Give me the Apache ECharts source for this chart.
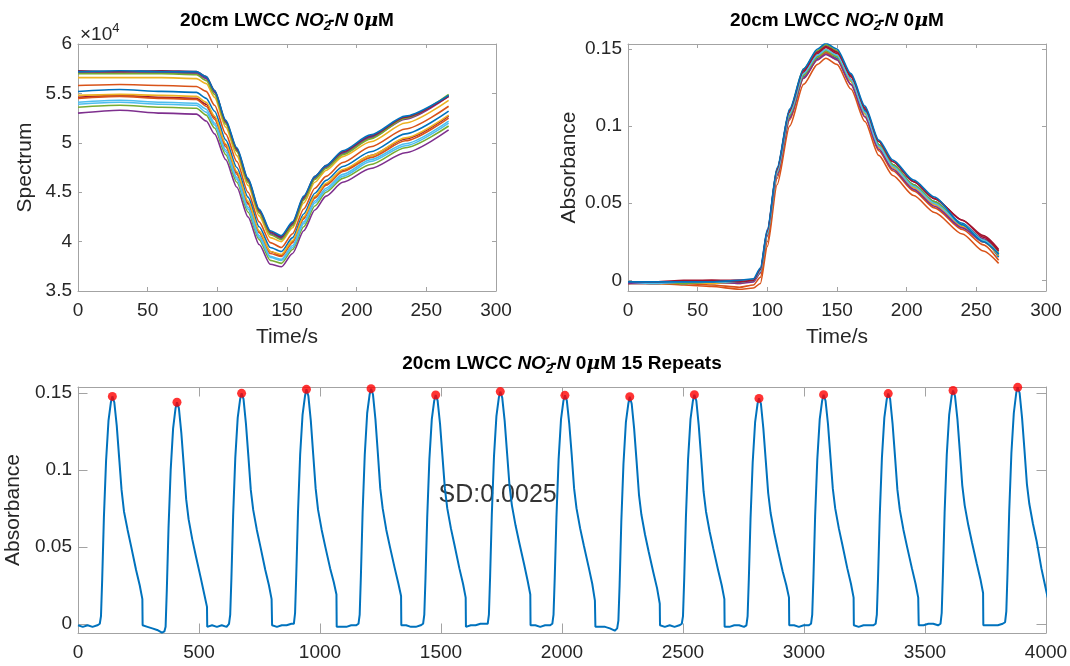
<!DOCTYPE html>
<html>
<head>
<meta charset="utf-8">
<script src="https://cdn.jsdelivr.net/npm/echarts@6/dist/echarts.min.js"></script>
<style>
html, body { margin: 0; padding: 0; background: #fff; }
#chart { width: 1070px; height: 666px; }
</style>
</head>
<body>
<div id="chart"></div>
<script>
// matlab default colour order
var lineColors = ['#0072BD', '#D95319', '#EDB120', '#7E2F8E', '#77AC30', '#4DBEEE', '#A2142F'];

// top left: raw spectrum (x10^4 counts), 15 runs
var specTime = [0, 30, 60, 85, 92, 98, 106, 114, 122, 130, 138, 146, 154, 162, 170, 178, 190, 210, 235, 266];
var spectrumRuns = [
  [5.72, 5.72, 5.72, 5.71, 5.66, 5.52, 5.21, 4.93, 4.62, 4.31, 4.09, 4.04, 4.18, 4.44, 4.65, 4.76, 4.90, 5.06, 5.25, 5.48],
  [5.58, 5.59, 5.58, 5.57, 5.52, 5.38, 5.09, 4.81, 4.50, 4.20, 3.99, 3.94, 4.08, 4.33, 4.54, 4.66, 4.80, 4.96, 5.14, 5.37],
  [5.66, 5.66, 5.66, 5.65, 5.60, 5.46, 5.16, 4.87, 4.57, 4.26, 4.04, 4.00, 4.14, 4.39, 4.60, 4.72, 4.86, 5.01, 5.20, 5.43],
  [5.30, 5.33, 5.30, 5.29, 5.22, 5.09, 4.83, 4.55, 4.25, 3.97, 3.77, 3.745, 3.88, 4.11, 4.32, 4.46, 4.60, 4.74, 4.90, 5.13],
  [5.36, 5.38, 5.36, 5.35, 5.28, 5.15, 4.88, 4.60, 4.30, 4.02, 3.81, 3.78, 3.92, 4.15, 4.36, 4.50, 4.64, 4.78, 4.95, 5.17],
  [5.39, 5.41, 5.39, 5.38, 5.31, 5.18, 4.91, 4.63, 4.33, 4.04, 3.84, 3.81, 3.94, 4.18, 4.39, 4.52, 4.66, 4.81, 4.97, 5.20],
  [5.46, 5.48, 5.46, 5.45, 5.39, 5.26, 4.98, 4.70, 4.39, 4.10, 3.90, 3.86, 4.00, 4.24, 4.45, 4.58, 4.72, 4.87, 5.04, 5.27],
  [5.52, 5.54, 5.52, 5.51, 5.45, 5.32, 5.03, 4.75, 4.45, 4.15, 3.94, 3.90, 4.04, 4.28, 4.49, 4.62, 4.76, 4.91, 5.09, 5.32],
  [5.45, 5.47, 5.45, 5.44, 5.37, 5.24, 4.96, 4.68, 4.38, 4.09, 3.88, 3.85, 3.99, 4.23, 4.44, 4.57, 4.71, 4.85, 5.02, 5.25],
  [5.48, 5.49, 5.48, 5.47, 5.41, 5.27, 4.99, 4.71, 4.41, 4.11, 3.90, 3.87, 4.01, 4.25, 4.46, 4.59, 4.73, 4.87, 5.05, 5.28],
  [5.71, 5.72, 5.71, 5.70, 5.65, 5.51, 5.21, 4.92, 4.61, 4.30, 4.08, 4.03, 4.17, 4.43, 4.64, 4.75, 4.89, 5.05, 5.24, 5.47],
  [5.70, 5.70, 5.70, 5.69, 5.63, 5.49, 5.19, 4.91, 4.60, 4.29, 4.07, 4.02, 4.16, 4.42, 4.63, 4.74, 4.88, 5.04, 5.25, 5.49],
  [5.41, 5.43, 5.41, 5.40, 5.34, 5.20, 4.93, 4.65, 4.35, 4.06, 3.85, 3.82, 3.96, 4.20, 4.41, 4.54, 4.68, 4.83, 4.99, 5.22],
  [5.73, 5.72, 5.73, 5.72, 5.67, 5.53, 5.22, 4.94, 4.63, 4.32, 4.10, 4.05, 4.19, 4.45, 4.66, 4.77, 4.91, 5.07, 5.26, 5.47],
  [5.72, 5.73, 5.72, 5.72, 5.67, 5.53, 5.23, 4.95, 4.64, 4.33, 4.11, 4.06, 4.20, 4.46, 4.66, 4.77, 4.92, 5.08, 5.27, 5.48]
];

// top right: absorbance of each run
var absTime = [0, 20, 40, 60, 80, 90, 95, 100, 107, 116, 126, 136, 142, 150, 160, 170, 180, 190, 205, 220, 240, 255, 266];
var absorbanceRuns = [
  [-0.001, -0.002, -0.001, -0.002, -0.001, 0.000, 0.005, 0.029, 0.069, 0.106, 0.132, 0.144, 0.1478, 0.144, 0.129, 0.108, 0.087, 0.073, 0.061, 0.050, 0.035, 0.025, 0.016],
  [-0.001, -0.002, -0.003, -0.004, -0.0058, -0.005, -0.002, 0.022, 0.062, 0.100, 0.127, 0.140, 0.1440, 0.140, 0.124, 0.103, 0.081, 0.068, 0.055, 0.044, 0.030, 0.019, 0.011],
  [-0.002, -0.001, -0.002, -0.001, -0.002, 0.000, 0.006, 0.030, 0.070, 0.108, 0.134, 0.146, 0.1498, 0.146, 0.130, 0.109, 0.087, 0.074, 0.061, 0.050, 0.035, 0.025, 0.016],
  [-0.001, -0.002, -0.001, -0.001, 0.000, 0.000, 0.007, 0.032, 0.072, 0.110, 0.136, 0.148, 0.1524, 0.148, 0.132, 0.110, 0.088, 0.074, 0.061, 0.050, 0.036, 0.027, 0.019],
  [-0.002, -0.002, -0.002, -0.001, -0.001, 0.000, 0.006, 0.031, 0.072, 0.110, 0.137, 0.149, 0.1528, 0.149, 0.133, 0.111, 0.088, 0.075, 0.061, 0.050, 0.036, 0.026, 0.018],
  [-0.001, -0.001, -0.002, -0.002, -0.001, 0.000, 0.006, 0.030, 0.069, 0.107, 0.133, 0.145, 0.1487, 0.145, 0.130, 0.109, 0.088, 0.075, 0.062, 0.051, 0.036, 0.026, 0.017],
  [-0.002, -0.001, -0.001, 0.000, 0.000, 0.000, 0.006, 0.031, 0.071, 0.109, 0.135, 0.147, 0.1509, 0.147, 0.132, 0.111, 0.090, 0.077, 0.064, 0.053, 0.039, 0.028, 0.019],
  [-0.001, -0.001, -0.002, -0.001, -0.001, 0.000, 0.006, 0.030, 0.069, 0.107, 0.133, 0.145, 0.1485, 0.145, 0.130, 0.110, 0.088, 0.075, 0.062, 0.051, 0.037, 0.026, 0.015],
  [-0.002, -0.002, -0.002, -0.003, -0.0045, -0.003, 0.002, 0.025, 0.066, 0.104, 0.131, 0.143, 0.1476, 0.143, 0.127, 0.106, 0.084, 0.071, 0.058, 0.047, 0.033, 0.023, 0.013],
  [-0.001, -0.002, -0.001, -0.002, -0.001, 0.000, 0.005, 0.029, 0.069, 0.107, 0.133, 0.145, 0.1489, 0.145, 0.129, 0.108, 0.086, 0.073, 0.060, 0.049, 0.035, 0.025, 0.016],
  [-0.002, -0.002, -0.001, -0.001, -0.002, -0.001, 0.005, 0.029, 0.068, 0.105, 0.131, 0.143, 0.1465, 0.143, 0.127, 0.106, 0.085, 0.072, 0.059, 0.048, 0.034, 0.025, 0.017],
  [-0.001, -0.001, -0.002, -0.001, -0.001, 0.000, 0.006, 0.030, 0.070, 0.107, 0.133, 0.145, 0.1489, 0.145, 0.130, 0.109, 0.088, 0.075, 0.062, 0.051, 0.036, 0.026, 0.017],
  [-0.001, -0.002, -0.001, -0.001, -0.001, 0.000, 0.006, 0.030, 0.070, 0.108, 0.134, 0.146, 0.1496, 0.146, 0.130, 0.109, 0.087, 0.074, 0.061, 0.050, 0.036, 0.026, 0.017],
  [-0.001, -0.001, 0.000, 0.000, -0.001, 0.000, 0.007, 0.032, 0.072, 0.110, 0.136, 0.148, 0.1516, 0.148, 0.133, 0.112, 0.090, 0.077, 0.064, 0.053, 0.039, 0.029, 0.020],
  [-0.001, -0.001, -0.001, -0.001, 0.000, 0.001, 0.008, 0.033, 0.073, 0.111, 0.137, 0.150, 0.1537, 0.150, 0.134, 0.113, 0.091, 0.078, 0.065, 0.054, 0.036, 0.025, 0.017]
];

// bottom: where each run starts in the 15-repeat record (s)
var runStart = [0, 267, 534, 802, 1069, 1336, 1603, 1870, 2138, 2405, 2672, 2939, 3206, 3474, 3741];
var sdText = 'SD:0.0025';
var sdPos = [1490, 0.0837];

var absTicks = [0, 0.05, 0.1, 0.15];

var axisGray = '#a3a3a3';
var textDark = '#262626';
var fontFam = 'Liberation Sans, Arial, sans-serif';

function plainNum(v) { return String(v); }

function xAxes(grid, min, max, step, tickLen, name) {
  var base = {
    type: 'value', gridIndex: grid, min: min, max: max, interval: step,
    axisLine: { show: true, onZero: false, lineStyle: { color: axisGray, width: 1 } },
    axisTick: { show: true, inside: true, length: tickLen, lineStyle: { color: axisGray } },
    splitLine: { show: false }
  };
  var bottom = Object.assign({}, base, {
    position: 'bottom',
    axisLabel: { color: textDark, fontSize: 19, fontFamily: fontFam, margin: 10, formatter: plainNum },
    name: name || '', nameLocation: 'middle', nameGap: 36,
    nameTextStyle: { color: textDark, fontSize: 21, fontFamily: fontFam }
  });
  var top = Object.assign({}, base, { position: 'top', axisLabel: { show: false } });
  return [bottom, top];
}

function yAxes(grid, min, max, step, ticks, tickLen, name, gap) {
  var base = {
    type: 'value', gridIndex: grid, min: min, max: max,
    axisLine: { show: true, onZero: false, lineStyle: { color: axisGray, width: 1 } },
    axisTick: { show: true, inside: true, length: tickLen, lineStyle: { color: axisGray } },
    splitLine: { show: false }
  };
  if (step) base.interval = step;
  if (ticks) base.axisTick.customValues = ticks;
  var lab = { color: textDark, fontSize: 19, fontFamily: fontFam, margin: 6, formatter: plainNum };
  if (ticks) lab.customValues = ticks;
  var left = Object.assign({}, base, {
    position: 'left', axisLabel: lab,
    name: name, nameLocation: 'middle', nameGap: gap,
    nameTextStyle: { color: textDark, fontSize: 21, fontFamily: fontFam }
  });
  var right = Object.assign({}, base, { position: 'right', axisLabel: { show: false } });
  return [left, right];
}

var titleRich = {
  b: { fontWeight: 'bold', fontSize: 19, fontFamily: fontFam, color: '#000', lineHeight: 26 },
  bi: { fontWeight: 'bold', fontStyle: 'italic', fontSize: 19, fontFamily: fontFam, color: '#000', lineHeight: 26 },
  sub: { fontWeight: 'bold', fontStyle: 'italic', fontSize: 13, fontFamily: fontFam, color: '#000', lineHeight: 13, padding: [11, 0, 0, 0] },
  sup: { fontWeight: 'bold', fontSize: 13, fontFamily: fontFam, color: '#000', lineHeight: 13, padding: [0, 0, 11, -7] },
  mu: { fontStyle: 'italic', fontSize: 19, fontFamily: 'DejaVu Serif', color: '#000', lineHeight: 26 }
};
var titleMain = '{b|20cm LWCC }{bi|NO}{sub|2}{sup|-}{bi|-N}{b| 0}{mu|μ}{b|M}';

function makeTitle(text, cx, top) {
  return { text: text, left: cx, top: top, textAlign: 'center', padding: 0, textStyle: { rich: titleRich } };
}

var series = [];
spectrumRuns.forEach(function (run, i) {
  series.push({
    type: 'line', xAxisIndex: 0, yAxisIndex: 0,
    data: specTime.map(function (t, j) { return [t, run[j]]; }),
    showSymbol: false, smooth: 0.25, smoothMonotone: 'x',
    lineStyle: { width: 1.6, color: lineColors[i % 7] }, itemStyle: { color: lineColors[i % 7] }
  });
});
absorbanceRuns.forEach(function (run, i) {
  series.push({
    type: 'line', xAxisIndex: 2, yAxisIndex: 2,
    data: absTime.map(function (t, j) { return [t, run[j]]; }),
    showSymbol: false, smooth: 0.25, smoothMonotone: 'x',
    lineStyle: { width: 1.6, color: lineColors[i % 7] }, itemStyle: { color: lineColors[i % 7] }
  });
});

// the repeat record is the 15 runs laid end to end
var repeatTrace = [];
var peaks = [];
absorbanceRuns.forEach(function (run, i) {
  var best = 0;
  run.forEach(function (v, j) {
    repeatTrace.push([runStart[i] + absTime[j], v]);
    if (v > run[best]) best = j;
  });
  peaks.push([runStart[i] + absTime[best], run[best]]);
});
series.push({
  type: 'line', xAxisIndex: 4, yAxisIndex: 4, data: repeatTrace,
  showSymbol: false, lineStyle: { width: 2, color: '#0072BD' }, itemStyle: { color: '#0072BD' }
});
series.push({
  type: 'scatter', xAxisIndex: 4, yAxisIndex: 4, data: peaks, symbolSize: 9, z: 5,
  itemStyle: { color: '#FF0000' }
});
series.push({
  type: 'scatter', xAxisIndex: 4, yAxisIndex: 4, data: [sdPos], symbolSize: 0, silent: true,
  label: { show: true, formatter: sdText, position: 'right', distance: 0, fontSize: 25, fontFamily: fontFam, color: '#000' }
});

var chart = echarts.init(document.getElementById('chart'));
chart.setOption({
  animation: false,
  backgroundColor: '#fff',
  textStyle: { fontFamily: fontFam },
  title: [
    makeTitle(titleMain, 287, 8),
    makeTitle(titleMain, 837, 8),
    makeTitle(titleMain + '{b| 15 Repeats}', 562, 351)
  ],
  grid: [
    { left: 78, top: 44, width: 418, height: 247, outerBoundsMode: 'none' },
    { left: 628, top: 44, width: 418, height: 247, outerBoundsMode: 'none' },
    { left: 78, top: 387, width: 968, height: 246, outerBoundsMode: 'none' }
  ],
  xAxis: [].concat(
    xAxes(0, 0, 300, 50, 4, 'Time/s'),
    xAxes(1, 0, 300, 50, 4, 'Time/s'),
    xAxes(2, 0, 4000, 500, 9.5, '')
  ),
  yAxis: [].concat(
    yAxes(0, 3.5, 6, 0.5, null, 4, 'Spectrum', 42),
    yAxes(1, -0.0069, 0.1532, null, absTicks, 4, 'Absorbance', 48),
    yAxes(2, -0.006, 0.1539, null, absTicks, 9.5, 'Absorbance', 48)
  ),
  graphic: [{
    type: 'text', left: 80, top: 22,
    style: {
      text: '{a|×10}{e|4}',
      rich: {
        a: { fontSize: 19, fontFamily: fontFam, fill: textDark },
        e: { fontSize: 13, fontFamily: fontFam, fill: textDark, padding: [0, 0, 12, 0] }
      }
    }
  }],
  series: series
});
</script>
</body>
</html>
